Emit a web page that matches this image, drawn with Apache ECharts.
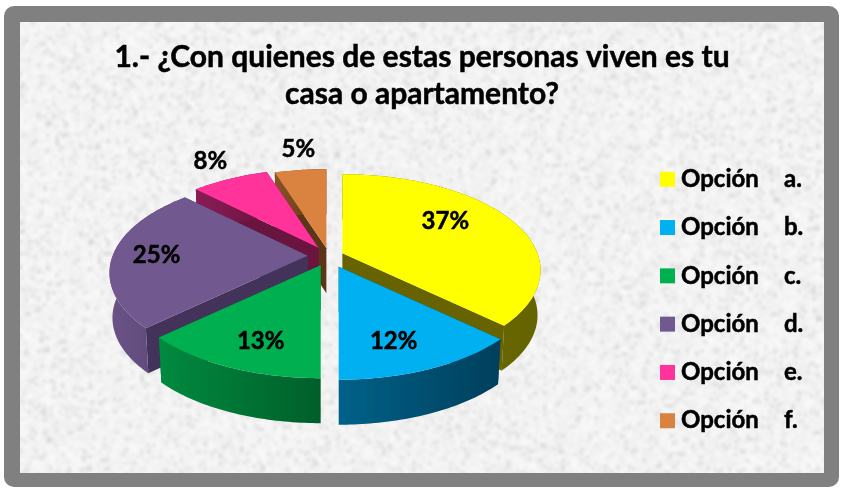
<!DOCTYPE html>
<html><head><meta charset="utf-8">
<style>html,body{margin:0;padding:0;background:#fff}#c{width:841px;height:488px}</style>
<script src="https://cdn.jsdelivr.net/npm/echarts@6/dist/echarts.min.js"></script>
</head><body><div id="c"></div>
<script>
// ---- data ----
const titleText = '1.- ¿Con quienes de estas personas viven es tu\ncasa o apartamento?';
const optionWords = ['Opción','Opción','Opción','Opción','Opción','Opción'];
const optionLetters = ['a.','b.','c.','d.','e.','f.'];
const sliceValues = [37, 13, 13, 24.5, 7.5, 5];
const sliceLabels = ['37%','12%','13%','25%','8%','5%'];

// ---- styling ----
const topColors = ['#ffff00','#00b0f0','#00b050','#71588f','#ff3399','#da8240'];
const innerColors = ['#666300','#004a6a','#006e30','#43325a','#6a1440','#5c3614'];
const outerColors = [
  ['#6b6a00','#666400'],['#006188','#003f5c'],['#008a40','#005f29'],
  ['#6a5286','#5a4674'],['#8a1c56','#6a1440'],['#8a5226','#5c3614']];
const explode = [0.08,0.105,0.09,0.11,0.12,0.10];
const drawOrder = [3,5,4,2,1,0];
const labelOffsets = [[103,-32],[55,75],[-60,76],[-151,-1],[-108,-86],[-28,-99]];
const pieCenter = [329,256], rx = 195, ry = 93, persp = 0.177, depth = 45, bottomShrink = 0.985;

function project(deg, r){
  const a = deg*Math.PI/180, X = r*Math.sin(a), Y = -r*Math.cos(a), f = 1/(1-persp*Y);
  return [rx*X*f, ry*Y*f];
}
const total = sliceValues.reduce((s,v)=>s+v,0);
function sliceAngles(i, value){
  let s = 0; for(let k=0;k<i;k++) s += sliceValues[k];
  return [s/total*360, (s+value)/total*360];
}
function renderSlice(i){
  return function(params, api){
    const [a0,a1] = sliceAngles(i, api.value(0));
    const mid = project((a0+a1)/2, 1);
    const ax = pieCenter[0]+explode[i]*mid[0], ay = pieCenter[1]+explode[i]*mid[1];
    const top=[], bot=[];
    for(let d=a0; ; d+=1){
      const deg = Math.min(d,a1), p = project(deg,1);
      top.push([ax+p[0], ay+p[1]]);
      bot.push([ax+p[0]*bottomShrink, ay+p[1]+depth]);
      if(deg>=a1) break;
    }
    const first=top[0], last=top[top.length-1], bf=bot[0], bl=bot[bot.length-1], ab=[ax,ay+depth];
    const inner = innerColors[i];
    const poly = (pts,fill)=>({type:'polygon',shape:{points:pts},style:{fill:fill,stroke:null}});
    const grad = {type:'linear',x:0,y:0,x2:1,y2:0,global:false,colorStops:[
      {offset:0,color:outerColors[i][0]},{offset:1,color:outerColors[i][1]}]};
    return {type:'group',children:[
      poly([first,[ax,ay],ab,bf],inner),
      poly([last,[ax,ay],ab,bl],inner),
      poly(top.concat(bot.slice().reverse()),grad),
      poly([[ax,ay]].concat(top),topColors[i]),
      {type:'text',style:{text:sliceLabels[i],x:ax+labelOffsets[i][0],y:ay+labelOffsets[i][1],
        align:'center',verticalAlign:'middle',fill:'#000',font:'bold 24px Lato',stroke:'#000',lineWidth:0.5}}
    ]};
  };
}

// deterministic mottled paper texture
function makeTexture(w,h){
  const small=document.createElement('canvas'); small.width=Math.ceil(w/3); small.height=Math.ceil(h/3);
  const sc=small.getContext('2d'), im=sc.createImageData(small.width,small.height);
  let seed=12345; const next=()=>{seed=(seed*1103515245+12345)&0x7fffffff;return seed/0x7fffffff;};
  for(let k=0;k<im.data.length;k+=4){
    const n=next(), g=n<0.1?212+n*150:n>0.55?244+(n-.55)*14:234+n*16;
    im.data[k]=im.data[k+1]=im.data[k+2]=g; im.data[k+3]=255;
  }
  sc.putImageData(im,0,0);
  const big=document.createElement('canvas'); big.width=w; big.height=h;
  const bc=big.getContext('2d'); bc.imageSmoothingEnabled=true; bc.imageSmoothingQuality='high';
  bc.filter='blur(1.6px)';
  bc.drawImage(small,-4,-4,w+8,h+8);
  return big;
}

const chart = echarts.init(document.getElementById('c'),null,{renderer:'canvas'});
const legendNames = optionWords.map((w,i)=>w+' '+optionLetters[i]);
const heavy = {textBorderColor:'#000',textBorderWidth:0.5};
chart.setOption({
  animation:false,
  backgroundColor:'#fff',
  graphic:[
    {type:'rect',z:-10,silent:true,shape:{x:4,y:6,width:835,height:481,r:10},style:{fill:'#808080'}},
    {type:'image',z:-9,silent:true,style:{image:makeTexture(804,451),x:20,y:22,width:804,height:451}}
  ],
  title:{text:titleText,left:417,top:34,textAlign:'center',
    textStyle:Object.assign({fontFamily:'Lato',fontWeight:'bold',fontSize:30,lineHeight:37,color:'#000'},heavy)},
  legend:{
    orient:'vertical',left:655,top:162,itemWidth:15,itemHeight:15,itemGap:23.8,icon:'rect',selectedMode:false,
    data:legendNames,
    formatter:function(n){const i=legendNames.indexOf(n);return '{w|'+optionWords[i]+'}{l|'+optionLetters[i]+'}';},
    textStyle:{padding:[0,0,0,1],rich:{
      w:Object.assign({fontFamily:'Lato',fontWeight:'bold',fontSize:24,lineHeight:24,width:103,color:'#000'},heavy),
      l:Object.assign({fontFamily:'Lato',fontWeight:'bold',fontSize:24,lineHeight:24,color:'#000'},heavy)}}
  },
  series: sliceValues.map((v,i)=>({
    type:'custom',name:legendNames[i],coordinateSystem:'none',silent:true,
    z:2+drawOrder[i],itemStyle:{color:topColors[i]},
    data:[[v]],renderItem:renderSlice(i)
  }))
});
</script></body></html>
